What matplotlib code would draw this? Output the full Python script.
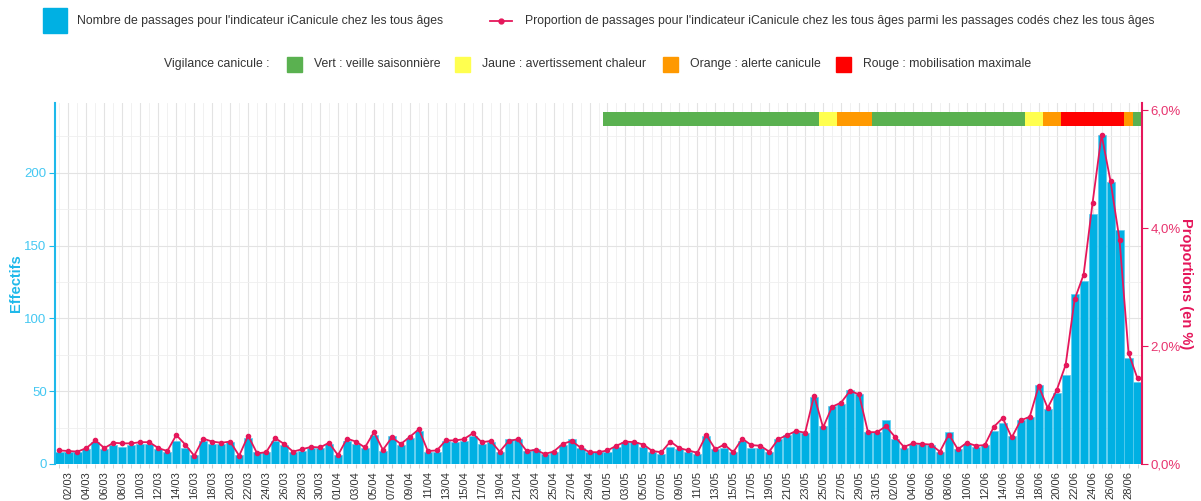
"""
Passages iCanicule : effectifs (barres) et proportions (courbe), avec bandeau de vigilance.
"""
import numpy as np
import pandas as pd
import matplotlib.pyplot as plt
from matplotlib.patches import Rectangle
from matplotlib.lines import Line2D

plt.rcParams["font.family"] = ["Liberation Sans", "DejaVu Sans"]

# ---- donnees ----
dates = pd.date_range("2025-03-01", "2025-06-29", freq="D")

effectifs = [8, 8, 8, 10, 15, 10, 13, 12, 13, 14, 14, 10, 8, 16, 11, 6, 16, 14, 14, 15,
             6, 18, 8, 8, 16, 13, 8, 9, 11, 11, 14, 6,
             16, 14, 11, 20, 9, 19, 13, 18, 23, 8, 8, 16, 15, 16, 19, 14, 15, 8,
             17, 17, 9, 10, 7, 8, 13, 17, 11, 8, 8, 8, 12,
             15, 15, 12, 8, 7, 12, 10, 8, 7, 19, 10, 11, 8, 16, 11, 11, 8, 17, 20, 22,
             21, 46, 26, 40, 41, 51, 48, 22, 22, 30, 17, 11,
             14, 14, 13, 8, 22, 10, 14, 12, 13, 23, 28, 19, 30, 32, 54, 38, 49, 61,
             117, 126, 172, 226, 194, 161, 73, 56]

proportions = [0.23, 0.22, 0.21, 0.27, 0.40, 0.27, 0.36, 0.35, 0.35, 0.37, 0.37, 0.27,
               0.22, 0.49, 0.33, 0.14, 0.43, 0.38, 0.36, 0.38, 0.14, 0.48, 0.18, 0.20,
               0.44, 0.34, 0.21, 0.25, 0.29, 0.28, 0.36, 0.15,
               0.43, 0.38, 0.28, 0.54, 0.24, 0.45, 0.34, 0.46, 0.59, 0.22, 0.23, 0.40,
               0.40, 0.42, 0.52, 0.37, 0.39, 0.21, 0.39, 0.42, 0.22, 0.24, 0.17, 0.21,
               0.34, 0.39, 0.28, 0.20, 0.20, 0.23, 0.31,
               0.38, 0.37, 0.33, 0.22, 0.20, 0.38, 0.27, 0.23, 0.19, 0.49,
               0.25, 0.33, 0.20, 0.43, 0.32, 0.31, 0.21, 0.42, 0.49, 0.56,
               0.53, 1.16, 0.62, 0.97, 1.04, 1.24, 1.18, 0.54, 0.54, 0.64, 0.46, 0.29,
               0.35, 0.34, 0.33, 0.21, 0.50, 0.25, 0.36, 0.31, 0.32, 0.63, 0.78, 0.45,
               0.74, 0.80, 1.32, 0.95, 1.25, 1.68, 2.79, 3.21, 4.43, 5.58, 4.79, 3.80,
               1.88, 1.45]

# periodes de vigilance canicule
vig_debut = ["2025-05-01", "2025-05-25", "2025-05-27", "2025-05-31", "2025-06-17",
             "2025-06-19", "2025-06-21", "2025-06-28", "2025-06-29"]
vig_fin = ["2025-05-24", "2025-05-26", "2025-05-30", "2025-06-16", "2025-06-18",
           "2025-06-20", "2025-06-27", "2025-06-28", "2025-06-29"]
vig_niveau = ["vert", "jaune", "orange", "vert", "jaune", "orange", "rouge", "orange", "vert"]

niveaux = ["vert", "jaune", "orange", "rouge"]
niveaux_labels = ["Vert : veille saisonnière", "Jaune : avertissement chaleur",
                  "Orange : alerte canicule", "Rouge : mobilisation maximale"]

# ---- styles ----
c_bar = "#00b0e3"
c_bar_edge = "#5acdf0"
c_left = "#1fb9ea"
c_left_txt = "#45c8f2"
c_line = "#e5175b"
c_right_txt = "#e8346f"
c_txt = "#333333"
vig_colors = {"vert": "#5ab150", "jaune": "#ffff4f", "orange": "#ff9900", "rouge": "#ff0000"}
fs_leg = 8.8

fig = plt.figure(figsize=(12.01, 5.01), dpi=100)
ax = fig.add_axes([55 / 1201, 37 / 501, 1087 / 1201, 361 / 501])
ax2 = ax.twinx()

x = np.arange(len(dates))

# grille
ax.set_xticks(x[1::2])
ax.set_xticks(x[0::2], minor=True)
ax.set_yticks([0, 50, 100, 150, 200])
ax.set_yticks([25, 75, 125, 175, 225], minor=True)
ax.grid(True, which="major", color="#e3e3e3", lw=0.8)
ax.grid(True, which="minor", color="#efefef", lw=0.6)
ax.set_axisbelow(True)

ax.bar(x, effectifs, width=0.9, color=c_bar, edgecolor=c_bar_edge, lw=0.5, zorder=2)

# bandeau vigilance
for d0, d1, niv in zip(vig_debut, vig_fin, vig_niveau):
    i0 = dates.get_loc(pd.Timestamp(d0))
    i1 = dates.get_loc(pd.Timestamp(d1))
    jours = np.arange(i0, i1 + 1)
    ax.bar(jours, 9.6, bottom=232.2, width=1.0, color=vig_colors[niv], lw=0, zorder=3)

ax2.plot(x, proportions, color=c_line, lw=1.3, marker="o", ms=3, zorder=4)

ax.set_xlim(-0.5, len(dates) - 0.5)
ax.set_ylim(0, 248)
ax2.set_ylim(0, 6.12)

ax.set_xticklabels(dates[1::2].strftime("%d/%m"), rotation=90, fontsize=8, color=c_txt)
ax.tick_params(axis="x", which="both", length=3, color="#cccccc", pad=2)
ax.tick_params(axis="y", which="major", length=4, color=c_left, labelcolor=c_left_txt,
               labelsize=9.5, pad=2)
ax.tick_params(axis="y", which="minor", length=0)

ax2.set_yticks([0, 2, 4, 6])
ax2.set_yticklabels(["0,0%", "2,0%", "4,0%", "6,0%"])
ax2.tick_params(axis="y", length=4, color=c_line, labelcolor=c_right_txt, labelsize=9.5, pad=2)

for a in (ax, ax2):
    for s in ("top", "bottom"):
        a.spines[s].set_visible(False)
ax.spines["right"].set_visible(False)
ax2.spines["left"].set_visible(False)
ax.spines["left"].set_color(c_left)
ax.spines["left"].set_linewidth(1.5)
ax2.spines["right"].set_color(c_line)
ax2.spines["right"].set_linewidth(1.5)

ax.set_ylabel("Effectifs", color=c_left, fontsize=10.5, fontweight="bold", labelpad=1)
ax2.set_ylabel("Proportions (en %)", color=c_line, fontsize=10.5, fontweight="bold",
               rotation=270, labelpad=9)

# ---- legendes (en haut) ----
W, H = 1201, 501


def px(xp, yp):
    return xp / W, 1 - yp / H


fig.add_artist(Rectangle(px(43, 33), 24 / W, 25 / H, color=c_bar, transform=fig.transFigure))
fig.text(*px(77, 21), "Nombre de passages pour l'indicateur iCanicule chez les tous âges",
         fontsize=fs_leg, color=c_txt, va="center")
fig.add_artist(Line2D([490 / W, 512 / W], [1 - 21 / H] * 2, color=c_line, lw=1.3,
                      transform=fig.transFigure))
fig.add_artist(Line2D([501 / W], [1 - 21 / H], color=c_line, marker="o", ms=3.5,
                      transform=fig.transFigure))
fig.text(*px(525, 21), "Proportion de passages pour l'indicateur iCanicule chez les tous âges "
         "parmi les passages codés chez les tous âges", fontsize=fs_leg, color=c_txt, va="center")

fig.text(*px(164, 64), "Vigilance canicule :", fontsize=fs_leg, color=c_txt, va="center")
carres_x = [287, 455, 663, 836]
for cx, niv, lab in zip(carres_x, niveaux, niveaux_labels):
    fig.add_artist(Rectangle(px(cx, 72), 15 / W, 15 / H, color=vig_colors[niv],
                             transform=fig.transFigure))
    fig.text(*px(cx + 27, 64), lab, fontsize=fs_leg, color=c_txt, va="center")

fig.savefig("out.png", dpi=100)
